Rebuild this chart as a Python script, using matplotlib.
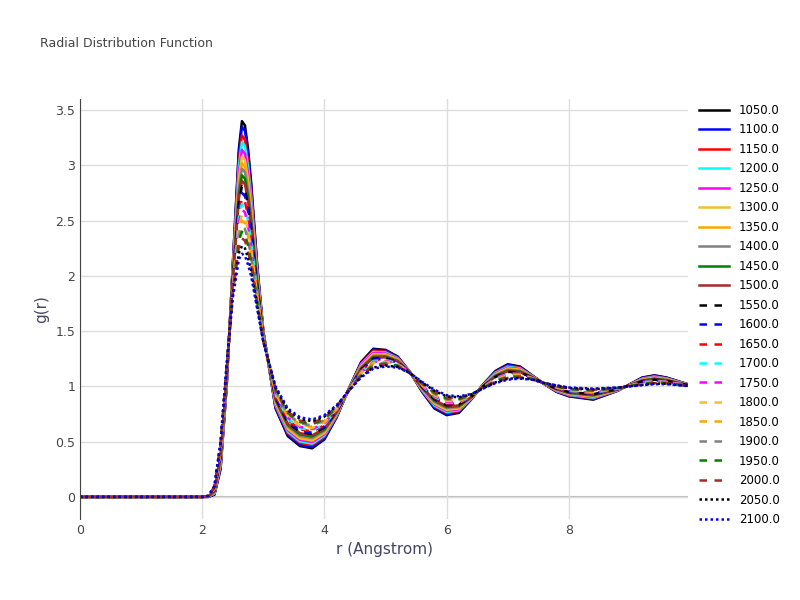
import matplotlib
matplotlib.use("Agg")
import matplotlib.pyplot as plt
import numpy as np

r = [0, 1, 2.0, 2.1, 2.2, 2.3, 2.4, 2.5, 2.6, 2.65, 2.7, 2.75, 2.8, 2.9, 3.0, 3.2, 3.4, 3.6, 3.8, 4.0, 4.2, 4.4,
     4.6, 4.8, 5.0, 5.2, 5.4, 5.6, 5.8, 6.0, 6.2, 6.4, 6.6, 6.8, 7.0, 7.2, 7.4, 7.6, 7.8, 8.0, 8.4,
     8.8, 9.2, 9.4, 9.6, 10.0]
g_1050 = [0, 0, 0, 0, 0.02, 0.25, 1.0, 2.1, 3.15, 3.4, 3.36, 3.15, 2.85, 2.1, 1.5, 0.8, 0.55, 0.46, 0.44, 0.52, 0.72, 0.98,
          1.22, 1.34, 1.33, 1.27, 1.13, 0.95, 0.80, 0.74, 0.76, 0.88, 1.02, 1.14, 1.2, 1.18, 1.1, 1.02,
          0.95, 0.91, 0.88, 0.96, 1.08, 1.1, 1.08, 1.01]
g_2100 = [0, 0, 0, 0.01, 0.1, 0.5, 1.2, 1.8, 2.15, 2.2, 2.18, 2.1, 2.0, 1.7, 1.4, 1.0, 0.8, 0.72, 0.70, 0.74, 0.83, 0.96,
          1.08, 1.16, 1.18, 1.17, 1.12, 1.04, 0.97, 0.92, 0.91, 0.93, 0.98, 1.03, 1.06, 1.07, 1.06, 1.03,
          1.01, 0.99, 0.98, 0.99, 1.01, 1.02, 1.02, 1.0]
temps = [1050, 1100, 1150, 1200, 1250, 1300, 1350, 1400, 1450, 1500, 1550,
         1600, 1650, 1700, 1750, 1800, 1850, 1900, 1950, 2000, 2050, 2100]
peaks = [3.40, 3.35, 3.27, 3.21, 3.14, 3.08, 3.02, 2.97, 2.91, 2.86, 2.81,
         2.75, 2.70, 2.65, 2.60, 2.55, 2.50, 2.45, 2.40, 2.34, 2.27, 2.20]

colors = ["black", "blue", "red", "cyan", "magenta", "#f0c030", "orange", "gray", "green", "brown"]
styles = ["-"] * 10 + ["--"] * 10 + [":"] * 2

c = np.array(g_1050); h = np.array(g_2100)
fig = plt.figure(figsize=(8, 6), dpi=100)
ax = fig.add_axes([0.1, 0.135, 0.76, 0.70])
for i, (t, p) in enumerate(zip(temps, peaks)):
    w = (peaks[0] - p) / (peaks[0] - peaks[-1])
    g = c + w * (h - c)
    ax.plot(r, g, color=colors[i % 10], ls=styles[i], lw=1.8, label=f"{t:.1f}",
            dashes=(3, 3) if styles[i] == "--" else ((1, 1.2) if styles[i] == ":" else (None, None)))
ax.set_xlim(0, 9.95)
ax.set_ylim(-0.2, 3.6)
ax.set_yticks([0, 0.5, 1, 1.5, 2, 2.5, 3, 3.5])
ax.set_yticklabels(["0", "0.5", "1", "1.5", "2", "2.5", "3", "3.5"])
ax.set_xticks([0, 2, 4, 6, 8])
ax.grid(color="#dddddd", lw=1)
ax.axhline(0, color="#bbbbbb", lw=1.5, zorder=0)
for s in ["top", "right", "bottom"]:
    ax.spines[s].set_visible(False)
ax.spines["left"].set_color("#444444")
ax.tick_params(colors="#444444", labelsize=9, length=0)
ax.set_xlabel("r (Angstrom)", color="#444466", fontsize=11)
ax.set_ylabel("g(r)", color="#444466", fontsize=11)
fig.text(0.05, 0.922, "Radial Distribution Function", fontsize=9, color="#444444")
ax.legend(loc="upper left", bbox_to_anchor=(1.01, 1.0), frameon=False, fontsize=8.5,
          handlelength=2.6, labelspacing=0.55, borderaxespad=0)
fig.savefig("out.png")
